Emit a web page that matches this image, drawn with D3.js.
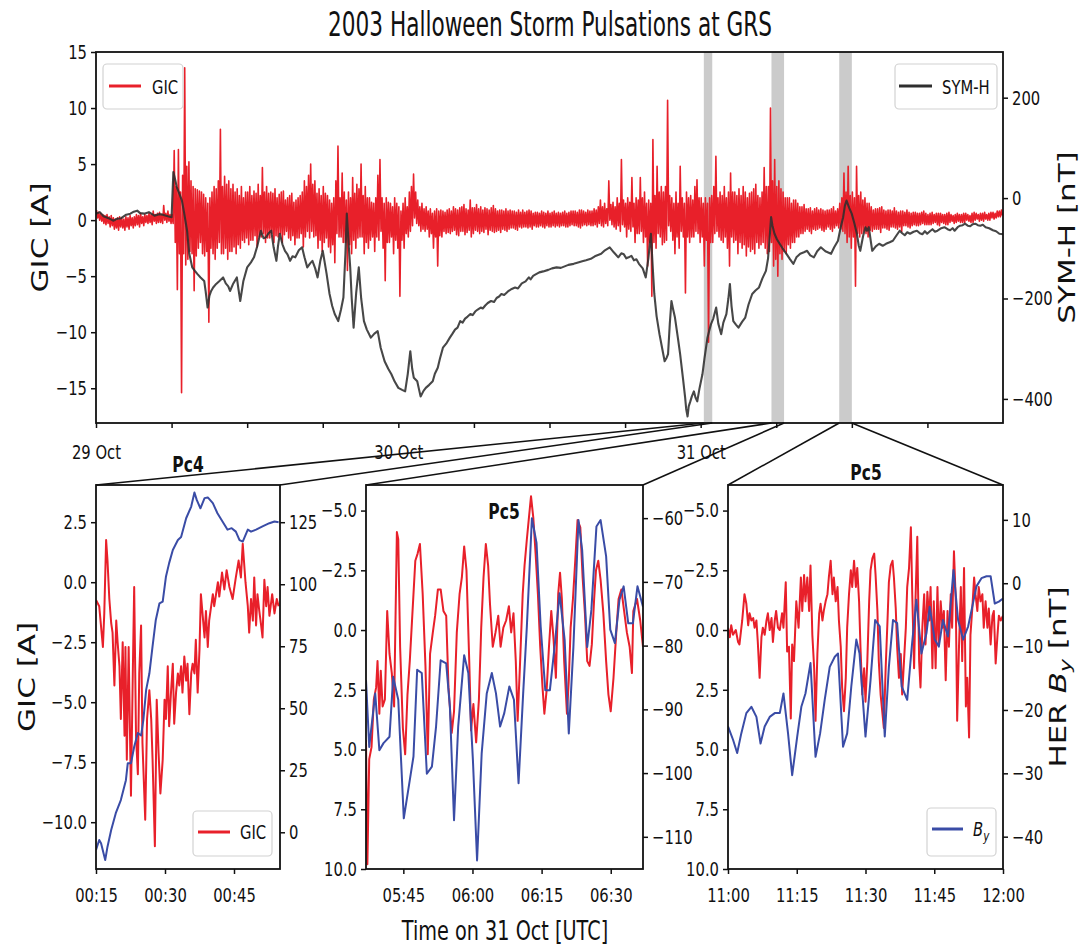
<!DOCTYPE html>
<html><head><meta charset="utf-8">
<script src="https://cdn.jsdelivr.net/npm/d3@7"></script>
<style>
body{margin:0;background:#fff}
svg{display:block}
text{font-family:"DejaVu Sans",sans-serif;fill:#111}
</style>
</head><body>
<svg id="c" width="1079" height="949"></svg>
<script>
// ---------------- DATA ----------------
const dayLabels = ["29 Oct", "30 Oct", "31 Oct"];
// GIC at GRS: max and min in each 10-min bin from 29 Oct 00:00 (six bins per hour)
const gicHi = [
 0.9,0.7,0.6,0.5,0.4,0.5, 0.3,0.4,0.2,0.1,0.2,0.3, 0.2,0.1,0.3,0.2,0.4,0.2,
 0.3,0.5,0.4,0.6,0.3,0.5, 0.4,0.6,0.5,0.8,0.5,0.6, 0.7,0.5,1.3,0.6,0.8,0.5,
 0.5,6.2,3.0,6.3,2.5,4.0, 13.6,4.8,5.2,3.5,3.0,2.8, 2.7,2.6,2.5,2.3,2.0,1.5,
 2.0,2.5,3.0,2.8,3.5,8.1, 3.0,3.9,3.2,3.5,2.8,3.2, 2.5,2.8,2.2,3.0,2.0,2.5,
 2.5,3.0,2.2,2.6,2.4,3.2, 2.2,4.7,2.5,3.0,2.4,2.5, 2.4,2.8,2.0,2.3,2.5,2.6,
 1.8,2.0,2.2,2.4,1.6,1.8, 2.0,2.2,2.5,3.5,3.0,4.0, 5.0,3.2,3.5,2.4,2.8,2.2,
 3.0,2.4,2.2,1.8,1.5,2.0, 3.5,6.6,2.0,4.2,2.5,1.8, 2.5,2.0,3.8,2.4,3.2,2.8,
 5.0,2.2,3.0,2.0,2.0,1.6, 1.5,2.0,4.0,5.4,2.0,1.5, 2.0,1.6,1.5,1.2,2.0,1.5,
 1.2,0.8,1.5,2.0,1.2,2.5, 3.0,4.1,2.5,1.8,1.2,1.5, 1.0,1.2,0.8,1.0,0.6,0.8,
 1.0,0.8,0.9,0.8,0.7,0.9, 1.0,0.8,1.2,1.0,0.9,1.1, 1.2,1.4,1.0,0.9,1.8,1.1,
 1.1,1.4,1.0,1.2,0.9,1.1, 1.0,0.9,1.1,1.3,1.0,0.8, 0.9,0.9,0.8,1.0,0.8,0.9,
 0.8,0.8,0.7,0.9,0.7,0.9, 0.7,0.8,0.9,0.8,0.6,0.7, 0.7,0.6,0.8,0.7,0.6,0.8,
 0.6,0.7,0.8,0.6,0.7,0.6, 0.7,0.8,0.6,0.7,0.8,0.8, 0.8,0.7,0.9,0.9,0.8,0.7,
 0.9,0.8,0.8,1.0,0.9,1.2, 1.8,1.2,1.5,1.0,3.5,1.4, 1.6,1.2,2.0,1.5,5.4,1.8,
 1.5,2.0,1.6,3.8,1.5,2.0, 1.8,3.8,2.0,2.5,1.5,1.8, 1.5,7.2,2.2,4.8,2.5,3.0,
 2.5,3.0,10.7,2.2,2.0,1.5, 2.5,1.5,4.8,2.0,1.5,2.5, 2.0,2.2,1.8,3.0,3.6,2.0,
 2.0,1.5,2.0,1.5,2.0,2.2, 3.0,5.7,2.0,2.5,2.2,3.0, 2.0,2.5,4.2,2.5,2.5,2.2,
 2.8,2.2,3.0,2.5,2.0,2.4, 2.5,2.8,3.2,2.2,2.0,2.5, 4.7,3.0,3.0,10.0,3.5,5.4,
 3.0,3.5,2.8,2.5,2.0,2.0, 2.0,1.5,1.8,1.8,1.5,1.2, 1.2,1.4,1.0,1.0,1.1,0.8,
 1.0,1.1,0.9,1.0,0.9,0.8, 0.9,0.9,1.0,1.2,0.8,1.0, 1.5,2.0,4.2,2.5,4.8,2.2,
 2.5,2.0,4.8,2.2,2.5,1.8, 2.0,1.5,1.5,1.2,0.9,1.0, 1.0,1.1,1.2,0.9,0.8,0.9,
 0.9,0.8,1.1,0.8,0.7,0.8, 0.8,0.7,0.9,0.7,0.6,0.7, 0.7,0.6,0.6,0.7,0.8,0.6,
 0.5,0.6,0.7,0.5,0.6,0.6, 0.6,0.5,0.5,0.6,0.7,0.5, 0.4,0.5,0.6,0.5,0.5,0.6,
 0.6,0.5,0.4,0.6,0.7,0.6, 0.5,0.6,0.6,0.7,0.5,0.6, 0.7,0.7,0.6,0.8,0.8,0.9
];
const gicLo = [
 0.2,0.0,-0.1,-0.3,-0.4,-0.3, -0.6,-0.5,-0.8,-0.7,-0.9,-0.6, -0.7,-0.9,-0.6,-0.8,-0.5,-0.7,
 -0.5,-0.4,-0.6,-0.3,-0.5,-0.2, -0.3,-0.2,-0.4,-0.1,-0.3,-0.2, -0.2,-0.3,0.0,-0.2,-0.1,-0.3,
 -0.3,-2.0,-6.2,-3.0,-15.4,-3.0, -4.0,-3.5,-2.8,-3.0,-6.3,-3.2, -2.5,-2.0,-3.0,-3.2,-2.8,-9.1,
 -2.5,-3.0,-3.5,-2.5,-2.0,-3.0, -3.0,-2.5,-3.5,-2.8,-2.8,-2.4, -3.0,-2.2,-2.5,-1.8,-2.0,-1.6,
 -2.2,-1.8,-1.8,-1.4,-2.4,-1.5, -1.5,-1.2,-2.0,-1.6,-1.6,-1.2, -2.0,-1.4,-1.5,-1.2,-2.0,-1.3,
 -1.0,-1.6,-1.8,-1.4,-2.2,-1.6, -1.6,-1.2,-2.4,-1.5,-1.0,-1.6, -1.0,-1.5,-1.4,-2.5,-1.8,-2.8,
 -2.0,-1.6,-2.4,-2.9,-2.2,-3.8, -1.2,-1.5,-1.5,-2.0,-2.0,-4.5, -2.2,-3.0,-1.8,-2.5,-1.6,-1.5,
 -1.5,-3.0,-2.0,-2.5,-1.8,-1.5, -2.8,-1.5,-1.8,-1.0,-2.5,-5.4, -2.0,-2.0,-1.5,-3.0,-1.8,-2.5,
 -6.8,-1.8,-2.5,-1.2,-1.5,-1.0, -0.5,0.2,-0.3,-0.5,-1.0,-0.8, -1.0,-0.8,-1.5,-1.2,-2.5,-1.5,
 -4.1,-1.4,-1.5,-1.0,-1.2,-1.1, -1.2,-1.0,-0.9,-1.3,-1.4,-1.0, -1.0,-1.3,-1.1,-0.9,-1.5,-1.2,
 -0.9,-1.0,-1.2,-1.0,-1.1,-0.8, -1.3,-0.9,-1.0,-1.1,-1.0,-0.9, -1.1,-0.8,-0.9,-1.0,-0.8,-0.7,
 -0.7,-0.8,-0.9,-0.6,-0.7,-0.6, -0.6,-0.7,-0.6,-0.8,-0.5,-0.6, -0.6,-0.5,-0.6,-0.7,-0.5,-0.6,
 -0.6,-0.5,-0.6,-0.5,-0.6,-0.5, -0.5,-0.6,-0.6,-0.5,-0.4,-0.5, -0.5,-0.6,-0.7,-0.5,-0.4,-0.5,
 -0.4,-0.5,-0.5,-0.4,-0.6,-0.3, -0.5,-0.6,-0.3,-0.5,0.0,-0.4, -0.6,-0.8,-0.5,-1.0,-0.4,-0.6,
 -1.5,-0.8,-1.0,-0.6,-2.0,-1.2, -1.2,-1.0,-2.0,-1.5,-4.1,-2.0, -6.8,-2.0,-2.5,-1.2,-1.5,-2.2,
 -2.0,-1.8,-0.5,-1.0,-1.8,-3.0, -1.5,-2.5,-1.0,-1.5,-6.5,-1.5, -2.0,-1.5,-1.5,-1.0,-1.2,-2.0,
 -1.5,-4.1,-1.8,-10.9,-2.0,-2.0, -1.2,-1.0,-1.5,-1.8,-2.0,-1.5, -2.5,-4.1,-1.5,-2.0,-1.8,-3.0,
 -2.0,-2.5,-2.2,-3.2,-2.4,-2.8, -2.6,-3.0,-2.0,-2.5,-2.2,-2.0, -2.5,-3.0,-2.8,-2.0,-4.1,-3.5,
 -5.0,-3.0,-3.5,-2.8,-3.0,-2.2, -2.5,-2.0,-2.0,-1.5,-1.5,-1.2, -1.2,-1.0,-0.8,-1.0,-1.2,-0.8,
 -0.9,-0.8,-0.7,-0.9,-1.0,-0.8, -0.6,-0.8,-1.0,-0.7,-0.5,-0.7, -0.8,-1.0,-1.2,-2.0,-1.5,-2.5,
 -1.5,-5.9,-1.2,-1.5,-1.2,-1.0, -1.2,-1.5,-0.9,-1.0,-0.8,-0.8, -0.8,-1.1,-0.7,-0.7,-0.8,-0.9,
 -0.6,-0.6,-0.7,-0.8,-0.6,-1.0, -0.5,-0.5,-0.6,-0.7,-0.5,-0.4, -0.5,-0.5,-0.4,-0.3,-0.4,-0.4,
 -0.4,-0.4,-0.3,-0.2,-0.4,-0.5, -0.2,-0.3,-0.4,-0.4,-0.2,-0.1, -0.3,-0.2,-0.1,-0.2,-0.2,-0.2,
 0.0,-0.1,-0.2,-0.2,0.0,0.1, -0.1,0.0,-0.1,0.1,0.0,0.0, 0.2,0.1,0.2,0.3,0.3,0.4
];
// SYM-H [hours since 29 Oct 00:00, nT]
const symH = [
 [0,-31],[0.3,-28],[0.6,-36],[1.0,-40],[1.36,-45],[1.7,-41],[2.0,-40],[2.4,-33],[2.73,-31],[3.0,-27],
 [3.27,-25],[3.5,-30],[3.82,-31],[4.2,-28],[4.64,-35],[5.0,-32],[5.3,-33],[5.7,-36],[6.0,-38],[6.14,52],
 [6.3,35],[6.41,22],[6.6,10],[6.82,-5],[7.0,-30],[7.23,-65],[7.4,-110],[7.64,-138],[7.85,-145],[8.04,-151],
 [8.3,-158],[8.59,-165],[8.7,-185],[8.86,-218],[9.0,-195],[9.14,-185],[9.3,-178],[9.54,-171],[9.8,-165],[10.09,-158],
 [10.3,-170],[10.5,-176],[10.64,-185],[10.9,-170],[11.18,-158],[11.3,-180],[11.45,-205],[11.7,-165],[12.0,-138],[12.3,-128],
 [12.54,-118],[12.8,-96],[13.09,-65],[13.3,-80],[13.5,-78],[13.7,-70],[13.91,-65],[14.1,-98],[14.32,-125],[14.45,-95],
 [14.59,-71],[14.8,-92],[15.0,-105],[15.2,-112],[15.41,-125],[15.6,-116],[15.82,-118],[16.1,-104],[16.36,-98],[16.55,-118],
 [16.77,-138],[17.0,-130],[17.18,-125],[17.4,-140],[17.59,-158],[17.8,-126],[18.0,-105],[18.3,-150],[18.54,-191],[18.75,-215],
 [18.95,-231],[19.23,-245],[19.45,-222],[19.64,-198],[19.8,-110],[19.91,-31],[20.05,-90],[20.18,-138],[20.3,-200],[20.45,-258],
 [20.65,-190],[20.86,-138],[21.05,-200],[21.27,-245],[21.5,-262],[21.82,-278],[22.1,-270],[22.36,-265],[22.6,-298],[22.91,-325],
 [23.2,-340],[23.45,-351],[23.7,-365],[24.0,-378],[24.3,-382],[24.54,-385],[24.75,-350],[24.95,-305],[25.1,-340],[25.23,-358],
 [25.5,-365],[25.65,-382],[25.77,-395],[26.0,-384],[26.18,-378],[26.45,-372],[26.73,-365],[26.9,-350],[27.13,-338],[27.3,-320],
 [27.54,-298],[27.8,-290],[28.09,-278],[28.3,-270],[28.5,-262],[28.7,-258],[28.91,-245],[29.1,-248],[29.3,-240],[29.5,-236],
 [29.72,-231],[29.9,-233],[30.1,-226],[30.3,-222],[30.54,-218],[30.7,-220],[30.9,-214],[31.1,-209],[31.36,-205],[31.6,-207],
 [31.8,-199],[32.0,-196],[32.18,-191],[32.4,-193],[32.7,-186],[33.0,-181],[33.27,-178],[33.5,-180],[33.8,-170],[34.1,-166],
 [34.36,-158],[34.5,-162],[34.7,-155],[34.9,-152],[35.19,-148],[35.5,-146],[35.9,-143],[36.2,-140],[36.56,-138],[36.9,-139],
 [37.2,-136],[37.5,-133],[37.92,-131],[38.2,-129],[38.6,-126],[38.9,-124],[39.28,-121],[39.6,-116],[40.1,-111],[40.4,-104],
 [40.78,-98],[41.1,-108],[41.46,-118],[41.7,-110],[41.9,-112],[42.1,-120],[42.28,-118],[42.5,-115],[42.7,-124],[42.9,-122],
 [43.1,-131],[43.4,-140],[43.64,-158],[43.85,-120],[44.05,-71],[44.2,-140],[44.32,-191],[44.5,-235],[44.73,-271],[44.95,-300],
 [45.14,-325],[45.3,-318],[45.41,-311],[45.55,-250],[45.68,-205],[45.8,-220],[45.96,-238],[46.2,-280],[46.37,-311],[46.6,-360],
 [46.77,-398],[46.85,-420],[46.96,-435],[47.05,-415],[47.18,-405],[47.3,-395],[47.46,-385],[47.6,-398],[47.73,-405],[47.9,-380],
 [48.14,-351],[48.3,-320],[48.54,-278],[48.7,-262],[48.82,-251],[49.0,-240],[49.23,-218],[49.4,-250],[49.63,-271],[49.8,-248],
 [50.04,-231],[50.2,-200],[50.32,-171],[50.45,-215],[50.59,-245],[50.8,-252],[51.0,-258],[51.3,-246],[51.54,-238],[51.8,-212],
 [52.09,-191],[52.35,-184],[52.63,-178],[52.9,-160],[53.18,-145],[53.35,-120],[53.5,-70],[53.59,-38],[53.7,-55],[53.86,-71],
 [54.05,-82],[54.27,-91],[54.5,-100],[54.81,-111],[55.1,-122],[55.36,-131],[55.6,-118],[55.9,-111],[56.2,-108],[56.45,-105],
 [56.7,-114],[56.99,-118],[57.25,-106],[57.54,-98],[57.9,-106],[58.35,-111],[58.6,-98],[58.9,-85],[59.1,-60],[59.31,-38],
 [59.45,-15],[59.58,-5],[59.8,-20],[59.99,-31],[60.2,-50],[60.4,-71],[60.55,-95],[60.67,-105],[60.9,-75],[61.08,-58],
 [61.2,-65],[61.35,-58],[61.5,-85],[61.62,-105],[61.9,-96],[62.17,-91],[62.45,-95],[62.71,-91],[63.0,-88],[63.26,-85],
 [63.5,-76],[63.8,-65],[64.0,-70],[64.2,-74],[64.4,-68],[64.62,-71],[64.9,-67],[65.17,-65],[65.4,-70],[65.6,-72],
 [65.8,-66],[65.98,-71],[66.2,-66],[66.4,-62],[66.6,-67],[66.8,-65],[67.1,-60],[67.35,-58],[67.6,-62],[67.8,-64],
 [68.0,-60],[68.16,-65],[68.4,-58],[68.6,-55],[68.8,-54],[68.98,-51],[69.2,-55],[69.4,-56],[69.6,-52],[69.8,-51],
 [70.0,-54],[70.2,-55],[70.4,-53],[70.62,-58],[70.9,-60],[71.2,-64],[71.45,-66],[71.71,-71],[72,-72]
];
// zoom windows on 31 Oct, hours since 29 Oct 00:00
const bands = [[48.25, 48.92], [53.62, 54.62], [59.0, 60.0]];
const panelTitles = ["Pc4", "Pc5", "Pc5"];

// Panel 1 (Pc4): minutes after 00:00 on 31 Oct
const p1Gic = [[15.0,-0.74],[15.7,-1.0],[16.5,-2.7],[16.8,-1.3],[17.2,1.76],[17.5,0.9],[17.9,-0.7],[18.3,-1.7],[18.6,-2.1],[19.0,-4.3],
 [19.4,-1.6],[19.7,-2.5],[20.1,-3.5],[20.4,-5.7],[20.8,-2.5],[21.2,-6.4],[21.4,-2.7],[21.7,-7.4],[22.1,-2.7],[22.6,-8.9],
 [23.0,-3.8],[23.3,-0.2],[23.7,-6.4],[24.1,-8.0],[24.4,-3.8],[24.8,-1.8],[25.1,-6.7],[25.7,-9.9],[26.1,-5.7],[26.6,-4.5],
 [27.0,-5.7],[27.3,-7.4],[27.8,-11.0],[28.2,-4.9],[28.6,-7.1],[29.0,-8.8],[29.5,-7.4],[29.9,-4.9],[30.2,-5.7],[30.6,-3.5],
 [30.9,-6.0],[31.3,-4.6],[31.7,-3.4],[32.0,-5.9],[32.4,-4.6],[32.8,-3.8],[33.1,-4.3],[33.5,-3.5],[33.8,-4.6],[34.2,-3.1],
 [34.6,-4.1],[34.9,-3.4],[35.3,-5.5],[35.7,-3.8],[36.0,-3.4],[36.4,-3.8],[36.7,-2.4],[37.1,-4.6],[37.5,-2.8],[37.8,-0.5],
 [38.2,-1.4],[38.6,-2.3],[38.9,-1.2],[39.3,-2.7],[39.6,-1.6],[40.4,-0.5],[40.7,-1.0],[41.5,0.0],[41.8,-0.6],[42.4,0.4],
 [42.9,-0.3],[43.4,0.5],[44.0,-0.2],[44.7,-0.7],[45.4,0.2],[46.0,0.9],[46.5,0.2],[46.9,1.6],[47.5,0.0],[48.0,-1.0],
 [48.3,-2.1],[48.7,-0.7],[49.1,-1.6],[49.4,0.2],[49.8,-1.8],[50.1,-0.5],[50.5,-1.2],[50.9,-1.8],[51.2,-2.3],[51.6,0.1],
 [52.0,-1.0],[52.3,-0.2],[52.7,-1.4],[53.3,-0.5],[53.8,-1.3],[54.3,-0.7],[54.7,-1.0]];
const p1By = [[15.0,-7.1],[15.7,-3.1],[16.1,-4.4],[17.0,-11.2],[17.5,-5.8],[18.3,0.9],[19.3,7.7],[20.4,13],[21.5,21],[21.9,27.8],
 [22.6,27.8],[23.3,34.5],[24.1,40],[24.8,39],[25.3,45.3],[25.9,57.4],[26.6,64],[27.3,75],[28.0,85.6],[28.8,92.3],
 [29.5,93],[30.2,103],[30.9,108.5],[31.7,113.8],[32.8,117.8],[33.5,119],[34.6,126.6],[35.7,131.3],[36.4,137],[36.9,134],
 [37.7,130.6],[38.6,134.7],[39.3,135],[40.4,132.7],[41.4,128.6],[42.5,125.3],[43.6,122],[44.5,122.6],[45.4,121.2],[46.2,117.8],
 [46.9,117.2],[48.0,122],[48.7,121.2],[49.8,122],[51.2,123.3],[52.7,124.6],[53.8,125.3],[54.7,125]];

// Panel 2 (Pc5): minutes after 05:00 on 31 Oct
const p2Gic = [[36.9,4.6],[37.2,9.8],[37.6,5.4],[38.1,4.9],[38.6,2.9],[39.1,2.4],[39.4,1.3],[39.8,3.5],[40.1,1.7],[40.5,3.2],
 [41.0,2.9],[41.5,-0.8],[42.0,1.0],[42.5,1.8],[43.0,3.2],[43.6,-4.1],[43.9,-3.8],[44.3,0.7],[44.9,4.1],[45.4,5.2],
 [45.9,2.7],[46.4,1.3],[47.0,-0.8],[47.6,-2.9],[48.1,-3.2],[48.6,-3.6],[49.2,-1.5],[49.8,1.5],[50.3,5.2],[50.8,1.0],
 [51.4,0.1],[51.9,-0.6],[52.5,-1.7],[53.1,-1.7],[53.7,-0.8],[54.3,-0.6],[54.8,2.4],[55.5,4.3],[56.0,3.4],[56.6,0.1],
 [57.2,-1.5],[57.7,-2.2],[58.2,-3.5],[58.7,-2.5],[59.3,1.3],[59.7,4.2],[60.2,3.1],[60.8,4.7],[61.4,2.9],[61.9,-0.1],
 [62.4,-2.2],[62.9,-3.6],[63.4,-2.7],[63.8,-1.1],[64.4,0.7],[65.0,0.1],[65.6,-0.6],[66.1,0.7],[66.7,-0.1],[67.3,-0.4],
 [67.9,-1.0],[68.4,0.1],[68.9,-0.7],[69.4,1.3],[69.8,3.8],[70.3,1.5],[70.9,-1.5],[71.3,-2.7],[71.8,-3.8],[72.2,-4.6],
 [72.7,-5.6],[73.2,-4.7],[73.7,-3.2],[74.2,-1.5],[74.7,0.7],[75.2,2.4],[75.6,3.5],[76.1,2.5],[76.6,0.7],[77.1,-0.8],
 [77.6,0.4],[78.1,2.0],[78.6,-1.5],[79.0,-2.4],[79.4,-1.3],[79.9,1.3],[80.5,3.5],[80.9,2.1],[81.3,-0.1],[81.8,-1.3],
 [82.3,-2.9],[82.8,-4.6],[83.4,-4.3],[83.9,-2.2],[84.4,-0.7],[84.9,1.3],[85.4,1.5],[85.9,0.6],[86.4,-1.3],[86.8,-2.5],
 [87.3,-2.9],[87.8,-2.1],[88.4,-0.7],[89.0,1.3],[89.5,2.7],[90.0,3.4],[90.6,2.0],[91.2,0.1],[91.7,-1.3],[92.3,-1.7],
 [92.9,-0.8],[93.5,0.1],[94.1,0.7],[94.6,1.8],[94.9,-0.8],[95.7,-1.3],[96.4,-0.4],[97.0,0.7]];
const p2By = [[36.9,-85.4],[37.6,-95.9],[38.9,-87.5],[39.8,-96.4],[40.7,-95.3],[42.0,-94.3],[42.8,-84.9],[43.9,-88.5],[45.1,-107.1],[46.4,-101.1],
 [47.2,-97.4],[48.0,-83.8],[49.0,-84.3],[50.1,-100.1],[51.2,-99],[52.1,-92.7],[53.1,-82.3],[54.3,-82.8],[55.1,-89.6],[56.0,-107.4],
 [56.9,-92.7],[58.2,-81.5],[59.1,-84.3],[60.1,-98],[61.0,-113.7],[62.0,-96.9],[63.1,-87.5],[64.2,-84.3],[65.1,-87.5],[66.0,-92.7],
 [66.9,-90.6],[68.0,-86.4],[69.0,-88.5],[70.0,-101.6],[71.0,-87.5],[71.8,-77],[72.9,-60],[73.9,-63.9],[74.8,-77],[75.8,-87],
 [76.8,-87],[77.9,-79.6],[78.9,-71.8],[80.0,-79.1],[80.9,-93.8],[81.9,-80.2],[83.0,-60.3],[83.8,-65],[84.9,-80.2],[85.8,-74.4],
 [86.9,-61.3],[87.8,-60.3],[89.0,-66],[89.9,-77.5],[90.9,-79.6],[91.9,-72.8],[92.8,-70.7],[93.8,-76.5],[94.8,-76.5],[95.8,-70.7],[97.0,-73.9]];

// Panel 3 (Pc5): minutes after 11:00 on 31 Oct
const p3Gic = [[0.0,-0.1],[0.4,0.3],[0.7,-0.2],[1.1,0.2],[1.7,0.0],[2.2,0.5],[2.5,0.6],[3.1,-0.4],[3.6,-1.5],[4.0,-1.1],
 [4.4,-0.2],[4.7,-0.7],[5.1,-0.4],[5.5,-0.5],[5.8,-0.1],[6.2,-0.4],[6.5,0.5],[6.9,2.0],[7.3,0.3],[7.6,-0.1],
 [8.0,0.2],[8.4,-0.4],[8.7,-0.7],[9.1,0.0],[9.5,-0.5],[9.8,0.5],[10.2,-0.4],[10.5,-0.8],[10.9,-0.1],[11.3,0.0],
 [11.8,-0.7],[12.1,-0.1],[12.6,-2.0],[12.9,0.9],[13.3,0.7],[13.7,3.7],[14.0,0.6],[14.4,1.3],[14.9,-1.2],[15.4,-0.1],
 [15.9,-2.2],[16.2,-0.8],[16.6,-2.3],[16.9,-1.2],[17.3,-2.2],[17.7,-0.8],[18.0,-2.7],[18.4,0.2],[18.8,1.6],[19.1,3.8],
 [19.5,1.0],[19.9,-0.7],[20.2,-1.1],[20.6,-0.4],[20.9,-0.8],[21.3,-1.2],[21.7,-1.5],[22.0,-2.2],[22.4,-2.9],[22.8,-1.5],
 [23.1,-2.2],[23.5,-1.2],[23.9,-1.8],[24.2,-0.4],[24.6,0.7],[24.9,2.4],[25.3,3.4],[25.7,2.0],[26.0,-0.1],[26.4,-1.5],
 [26.8,-2.5],[27.1,-1.8],[27.5,-2.9],[27.9,-1.8],[28.2,-2.6],[28.6,-1.2],[28.9,0.7],[29.3,2.7],[29.7,1.6],[30.0,3.0],
 [30.4,1.3],[30.8,-1.2],[31.1,-2.5],[31.5,-3.0],[31.9,-3.2],[32.2,-2.3],[32.6,-0.8],[32.9,1.3],[33.3,2.7],[33.7,3.5],
 [34.0,4.1],[34.4,1.6],[34.8,-0.4],[35.1,-2.0],[35.5,-2.7],[35.9,-2.9],[36.2,-2.2],[36.6,-0.9],[36.9,0.7],[37.3,2.0],
 [37.7,1.0],[38.0,2.7],[38.4,1.3],[38.8,-0.1],[39.1,-1.8],[39.5,-2.6],[39.9,-4.3],[40.2,-1.5],[40.6,1.6],[40.9,-1.2],
 [41.3,-3.9],[41.7,1.3],[42.0,2.4],[42.4,-0.1],[42.8,-1.5],[43.1,0.6],[43.5,-1.6],[43.9,-0.4],[44.2,-1.8],[44.6,1.6],
 [44.9,-1.2],[45.3,1.6],[45.7,-1.8],[46.0,0.6],[46.4,-1.2],[46.8,-0.1],[47.1,-0.8],[47.5,2.1],[47.9,-0.8],[48.2,0.7],
 [48.6,-1.5],[48.9,-0.1],[49.3,-3.3],[49.7,-1.2],[50.0,3.8],[50.4,0.7],[50.8,-1.8],[51.1,1.3],[51.5,-2.6],[51.9,3.2],
 [52.2,2.0],[52.6,4.5],[52.9,0.2],[53.3,-0.9],[53.7,-2.2],[54.0,-1.5],[54.4,-0.8],[54.7,-1.8],[55.1,-1.2],[55.5,-1.5],
 [55.8,-0.1],[56.2,-1.2],[56.6,-0.1],[56.9,-0.9],[57.3,0.6],[57.7,-0.6],[58.0,-0.8],[58.4,1.4],[58.8,0.2],[59.1,-0.6],
 [59.5,-0.4],[60.0,-0.6]];
const p3By = [[0,-22.6],[1.1,-24.7],[2.0,-26.8],[2.9,-23.7],[4.0,-20.5],[5.1,-19.5],[6.2,-21.1],[7.1,-25.3],[8.0,-22.6],[9.1,-21.1],
 [10.2,-20.5],[11.3,-20.5],[12.1,-17.4],[13.1,-23.7],[14.0,-30.3],[15.1,-24.2],[16.0,-19.5],[16.9,-17.4],[18.0,-12.6],[19.1,-27.4],
 [20.1,-23.7],[21.1,-18.4],[22.2,-13.2],[23.3,-11.6],[24.0,-11.1],[25.1,-25.8],[26.0,-23.7],[26.9,-16.3],[28.0,-8.9],[28.7,-11.1],
 [30.0,-24.2],[31.1,-15.3],[32.1,-5.8],[33.1,-6.8],[34.2,-24.2],[35.1,-13.2],[36.0,-5.8],[36.9,-6.3],[37.9,-16.3],[39.1,-18.4],
 [40.1,-10],[41.1,-2.6],[42.2,-11.1],[43.3,-7.9],[44.0,-3.7],[45.1,-8.9],[46.0,-10],[46.9,-5.8],[48.0,-8.4],[49.2,2.1],
 [50.2,-5.8],[51.3,-8.9],[52.4,-6.8],[53.3,-3.7],[54.2,-0.5],[55.3,0.8],[56.4,1.1],[57.3,1.1],[58.2,-3.2],[59.1,-2.9],[60.0,-2.4]];

// axis ticks
const topGicTicks = [-15,-10,-5,0,5,10,15];
const topSymTicks = [-400,-200,0,200];
const p1GicTicks = [-10,-7.5,-5,-2.5,0,2.5];
const p1ByTicks = [0,25,50,75,100,125];
const p23GicTicks = [-5,-2.5,0,2.5,5,7.5,10];
const p2ByTicks = [-110,-100,-90,-80,-70,-60];
const p3ByTicks = [-40,-30,-20,-10,0,10];
const p1TimeTicks = [15,30,45], p1TimeLabels = ["00:15","00:30","00:45"];
const p2TimeTicks = [45,60,75,90], p2TimeLabels = ["05:45","06:00","06:15","06:30"];
const p3TimeTicks = [0,15,30,45,60], p3TimeLabels = ["11:00","11:15","11:30","11:45","12:00"];

// ---------------- DRAWING ----------------
const RED = "#e8202a", BLUE = "#3a4ca6", SYMC = "#2e2e2e", INK = "#111";
const SX = 0.74;
const svg = d3.select("#c");
const fmtNum = (d, n) => (d < 0 ? "\u2212" : "") + Math.abs(d).toFixed(n);

function htext(g, x, y, s, size, anchor, weight) {
  return g.append("text").attr("transform", `translate(${x},${y}) scale(${SX},1)`)
    .attr("text-anchor", anchor || "middle").attr("font-size", size)
    .attr("font-weight", weight || "normal").text(s);
}
function vtext(g, x, y, size) {
  return g.append("text").attr("transform", `translate(${x},${y}) rotate(-90) scale(1,${SX})`)
    .attr("text-anchor", "middle").attr("font-size", size).attr("dy", "0.36em");
}
function styleAxis(g, side) {
  g.select(".domain").remove();
  g.selectAll(".tick line").attr("stroke", INK).attr("stroke-width", 1.5);
  const t = g.selectAll(".tick text").attr("font-size", 20).attr("fill", INK)
    .attr("font-family", "DejaVu Sans");
  if (side === "left") t.attr("x", -9 / SX);
  if (side === "right") t.attr("x", 9 / SX);
  t.attr("transform", `scale(${SX},1)`);
  return t;
}
let clipId = 0;
function clip(x0, y0, w, h) {
  const id = "clip" + (clipId++);
  svg.append("clipPath").attr("id", id).append("rect").attr("x", x0).attr("y", y0).attr("width", w).attr("height", h);
  return `url(#${id})`;
}
function legendBox(g, x, y, w, h, color, lx0, lx1, ly) {
  g.append("rect").attr("x", x).attr("y", y).attr("width", w).attr("height", h).attr("rx", 4)
    .attr("fill", "#fff").attr("fill-opacity", 0.85).attr("stroke", "#d2d2d2").attr("stroke-width", 1.2);
  g.append("line").attr("x1", lx0).attr("x2", lx1).attr("y1", ly).attr("y2", ly)
    .attr("stroke", color).attr("stroke-width", 3);
}

// ---- top panel ----
const TP = {l: 96, r: 1003, t: 52, b: 423};
const xTop = d3.scaleLinear().domain([0, 72]).range([TP.l, TP.r]);
const yGic = d3.scaleLinear().domain([-18.1, 15]).range([TP.b, TP.t]);
const ySym = d3.scaleLinear().domain([-448, 291]).range([TP.b, TP.t]);
const topG = svg.append("g");
const topClip = clip(TP.l, TP.t, TP.r - TP.l, TP.b - TP.t);

topG.selectAll("rect.band").data(bands).join("rect").attr("class", "band")
  .attr("x", d => xTop(d[0])).attr("width", d => xTop(d[1]) - xTop(d[0]))
  .attr("y", TP.t).attr("height", TP.b - TP.t).attr("fill", "#cbcbcb");

// interleave each 10-min bin's max and min so the trace renders like the dense 1-s record
const gicPts = [];
gicHi.forEach((hi, i) => {
  gicPts.push([(i * 10 + 2.5) / 60, hi]);
  gicPts.push([(i * 10 + 7.5) / 60, gicLo[i]]);
});
topG.append("path").datum(gicPts).attr("clip-path", topClip)
  .attr("d", d3.line().x(d => xTop(d[0])).y(d => yGic(d[1])))
  .attr("fill", "none").attr("stroke", RED).attr("stroke-width", 1.6).attr("stroke-linejoin", "round");
topG.append("path").datum(symH).attr("clip-path", topClip)
  .attr("d", d3.line().x(d => xTop(d[0])).y(d => ySym(d[1])))
  .attr("fill", "none").attr("stroke", SYMC).attr("stroke-opacity", 0.88).attr("stroke-width", 2.1).attr("stroke-linejoin", "round");

const axL = topG.append("g").attr("transform", `translate(${TP.l},0)`)
  .call(d3.axisLeft(yGic).tickValues(topGicTicks).tickSize(5).tickFormat(d => fmtNum(d, 0)));
styleAxis(axL, "left");
const axR = topG.append("g").attr("transform", `translate(${TP.r},0)`)
  .call(d3.axisRight(ySym).tickValues(topSymTicks).tickSize(5).tickFormat(d => fmtNum(d, 0)));
styleAxis(axR, "right");
const axB = topG.append("g").attr("transform", `translate(0,${TP.b})`)
  .call(d3.axisBottom(xTop).tickValues(d3.range(0, 72, 6)).tickSize(5)
    .tickFormat(d => d % 24 === 0 ? dayLabels[d / 24] : ""));
styleAxis(axB, "bottom").attr("y", 22);

topG.append("rect").attr("x", TP.l).attr("y", TP.t).attr("width", TP.r - TP.l).attr("height", TP.b - TP.t)
  .attr("fill", "none").attr("stroke", INK).attr("stroke-width", 1.8);

legendBox(topG, 103, 64, 80, 45, RED, 109, 141, 86);
htext(topG, 152, 93.5, "GIC", 20, "start");
legendBox(topG, 895, 64, 102, 45, SYMC, 899, 932, 86);
htext(topG, 942, 93.5, "SYM-H", 20, "start");

vtext(topG, 40, (TP.t + TP.b) / 2, 31).text("GIC [A]");
vtext(topG, 1067, (TP.t + TP.b) / 2, 31).text("SYM-H [nT]");

svg.append("text").attr("x", 550).attr("y", 36).attr("text-anchor", "middle").attr("font-size", 33)
  .attr("textLength", 444).attr("lengthAdjust", "spacingAndGlyphs")
  .text("2003 Halloween Storm Pulsations at GRS");

// ---- bottom panels ----
const BP = {t: 485, b: 869};
const panels = [
  {l: 96, r: 280, dom: [15, 55], gic: p1Gic, by: p1By, yg: [-11.95, 4.05], yb: [-14.8, 140],
   gt: p1GicTicks, bt: p1ByTicks, tt: p1TimeTicks, tl: p1TimeLabels},
  {l: 366, r: 643, dom: [36.9, 97], gic: p2Gic, by: p2By, yg: [10, -6.07], yb: [-115.05, -54.8],
   gt: p23GicTicks, bt: p2ByTicks, tt: p2TimeTicks, tl: p2TimeLabels},
  {l: 728, r: 1003, dom: [0, 60], gic: p3Gic, by: p3By, yg: [10, -6.07], yb: [-45.1, 15.5],
   gt: p23GicTicks, bt: p3ByTicks, tt: p3TimeTicks, tl: p3TimeLabels}
];
panels.forEach((p) => {
  const g = svg.append("g");
  const x = d3.scaleLinear().domain(p.dom).range([p.l, p.r]);
  const yg = d3.scaleLinear().domain(p.yg).range([BP.b, BP.t]);
  const yb = d3.scaleLinear().domain(p.yb).range([BP.b, BP.t]);
  const cp = clip(p.l, BP.t, p.r - p.l, BP.b - BP.t);
  g.append("path").datum(p.gic).attr("clip-path", cp)
    .attr("d", d3.line().x(d => x(d[0])).y(d => yg(d[1])))
    .attr("fill", "none").attr("stroke", RED).attr("stroke-width", 2).attr("stroke-linejoin", "round");
  g.append("path").datum(p.by).attr("clip-path", cp)
    .attr("d", d3.line().x(d => x(d[0])).y(d => yb(d[1])))
    .attr("fill", "none").attr("stroke", BLUE).attr("stroke-width", 2).attr("stroke-linejoin", "round");
  const aL = g.append("g").attr("transform", `translate(${p.l},0)`)
    .call(d3.axisLeft(yg).tickValues(p.gt).tickSize(5).tickFormat(d => fmtNum(d, 1)));
  styleAxis(aL, "left");
  const aR = g.append("g").attr("transform", `translate(${p.r},0)`)
    .call(d3.axisRight(yb).tickValues(p.bt).tickSize(5).tickFormat(d => fmtNum(d, 0)));
  styleAxis(aR, "right");
  const aB = g.append("g").attr("transform", `translate(0,${BP.b})`)
    .call(d3.axisBottom(x).tickValues(p.tt).tickSize(5).tickFormat((d, i) => p.tl[i]));
  styleAxis(aB, "bottom").attr("y", 19);
  g.append("rect").attr("x", p.l).attr("y", BP.t).attr("width", p.r - p.l).attr("height", BP.b - BP.t)
    .attr("fill", "none").attr("stroke", INK).attr("stroke-width", 1.8);
});

// panel titles
htext(svg, 188, 472, panelTitles[0], 21, "middle", "bold");
htext(svg, 504, 519, panelTitles[1], 21, "middle", "bold");
htext(svg, 866, 480, panelTitles[2], 21, "middle", "bold");

// legends in bottom panels
legendBox(svg, 193, 811, 79, 45, RED, 198, 230, 832);
htext(svg, 240, 839, "GIC", 20, "start");
legendBox(svg, 927, 808, 69, 48, BLUE, 932, 963, 829);
const byL = svg.append("text").attr("transform", `translate(973,836) scale(${SX},1)`).attr("font-size", 20);
byL.append("tspan").attr("font-style", "italic").text("B");
byL.append("tspan").attr("font-style", "italic").attr("font-size", 14).attr("dy", 5).text("y");

// axis labels bottom
vtext(svg, 27, (BP.t + BP.b) / 2, 31).text("GIC [A]");
const her = vtext(svg, 1058, (BP.t + BP.b) / 2, 31);
her.append("tspan").text("HER ");
her.append("tspan").attr("font-style", "italic").text("B");
her.append("tspan").attr("font-style", "italic").attr("font-size", 22).attr("dy", 7).text("y");
her.append("tspan").attr("dy", -7).text(" [nT]");
htext(svg, 505, 940, "Time on 31 Oct [UTC]", 26, "middle");

// connector lines from shaded bands to zoom panels
const conn = svg.append("g").attr("stroke", INK).attr("stroke-width", 1.6).attr("fill", "none");
bands.forEach((b, i) => {
  const p = panels[i];
  conn.append("line").attr("x1", xTop(b[0])).attr("y1", TP.b).attr("x2", p.l).attr("y2", BP.t);
  conn.append("line").attr("x1", xTop(b[1])).attr("y1", TP.b).attr("x2", p.r).attr("y2", BP.t);
});
</script>
</body></html>
